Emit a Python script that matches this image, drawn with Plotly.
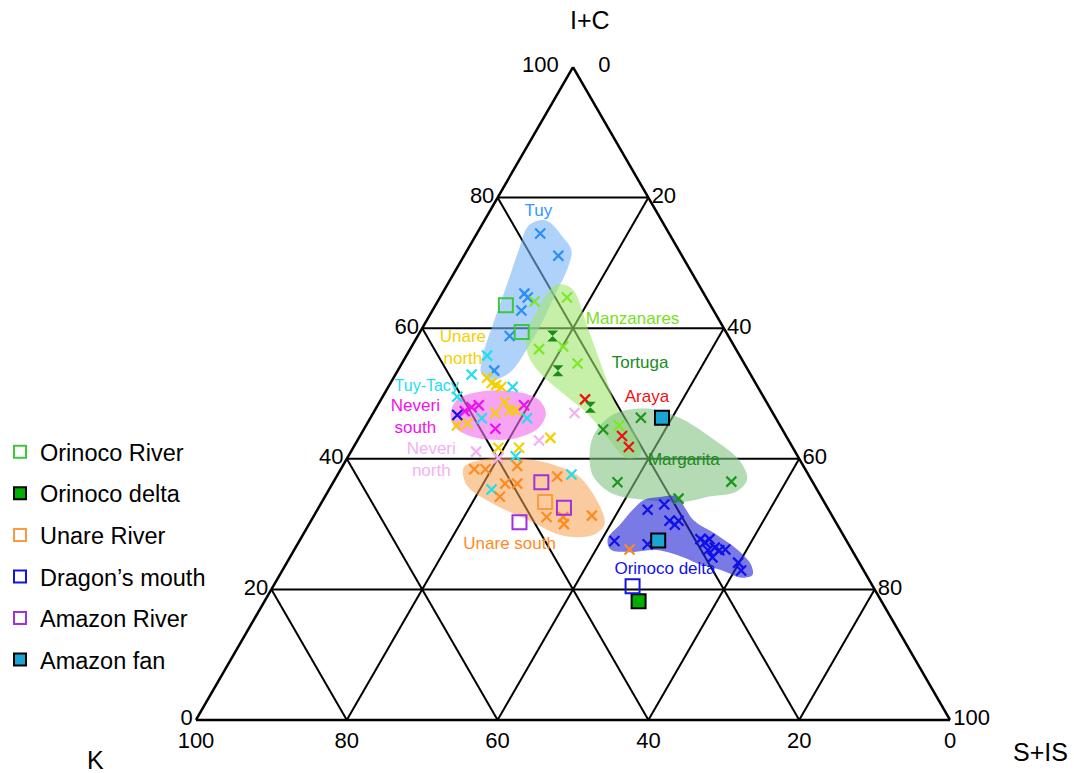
import plotly.graph_objects as go

# ---------------- data (ternary %, a = I+C, c = S+IS, K = 100 - a - c) ----------------
# x-marker groups
tuy_a = [74.5, 71.1, 65.3, 64.7, 62.7, 58.8, 53.5]
tuy_c = [8.4, 12.5, 10.9, 11.65, 11.8, 12.2, 12.8]

tuytacy_a = [55.8, 52.9, 51.0, 49.5, 46.2, 46.2, 40.4, 35.3, 37.6]
tuytacy_c = [10.7, 10.1, 16.5, 9.9, 14.8, 20.8, 22.2, 21.55, 31.0]

unare_north_a = [52.4, 51.6, 51.3, 51.0, 48.7, 47.0, 47.4, 47.4, 45.4, 45.1, 41.7, 41.7, 43.2]
unare_north_c = [12.4, 13.4, 14.15, 15.0, 16.6, 16.2, 17.9, 18.7, 13.3, 12.05, 19.25, 22.0, 25.4]

neveri_south_a = [47.9, 48.2, 48.2, 44.6, 47.3]
neveri_south_c = [12.6, 13.4, 19.4, 17.4, 12.0]

neveri_north_a = [41.1, 42.8, 40.1, 47.0]
neveri_north_c = [16.6, 24.1, 20.05, 26.7]

unare_south_a = [38.4, 38.4, 38.9, 36.2, 36.2, 34.2, 37.3, 31.1, 31.1, 30.0, 31.3, 26.1]
unare_south_c = [17.7, 19.2, 23.15, 22.9, 24.5, 23.2, 29.25, 30.95, 33.15, 33.8, 36.85, 44.45]

manzanares_a = [64.1, 64.7, 56.8, 57.2, 54.6, 45.1]
manzanares_c = [12.85, 16.85, 17.1, 20.1, 23.3, 33.55]

tortuga_a = [58.8, 53.5, 47.9]
tortuga_c = [17.9, 21.25, 28.35]

margarita_a = [44.5, 46.3, 36.4, 36.5, 33.9]
margarita_c = [31.75, 35.85, 37.7, 52.75, 47.05]

araya_a = [49.1, 43.5, 41.8]
araya_c = [27.05, 34.75, 36.5]

odelta_a = [32.2, 33.0, 30.5, 29.9, 30.5, 27.4, 26.9, 27.7, 27.2, 27.7, 26.4, 26.0, 26.0, 26.1,
            24.9, 24.1, 22.9, 46.7]
odelta_c = [43.8, 45.6, 47.55, 48.55, 48.75, 41.8, 46.45, 53.05, 53.9, 54.25, 55.6, 54.9, 56.4,
            57.15, 56.05, 59.85, 60.85, 11.3]

# square-marker groups (legend)
orinoco_river_a = [63.5, 59.4]
orinoco_river_c = [9.35, 13.5]
orinoco_delta_sq_a = [18.2]
orinoco_delta_sq_c = [49.6]
unare_river_a = [33.4]
unare_river_c = [29.6]
dragons_a = [20.5]
dragons_c = [47.65]
amazon_river_a = [36.4, 32.5, 30.3]
amazon_river_c = [27.6, 32.55, 27.75]
amazon_fan_a = [46.3, 27.5]
amazon_fan_c = [38.65, 47.55]

# field outlines
tuy_blob_a = [75.7, 76.5, 73.9, 71.9, 69.2, 65.3, 60.7, 56.8, 53.3, 52.1, 52.9, 55.2, 60.7, 66.9, 72.3]
tuy_blob_c = [6.25, 8.15, 11.75, 13.85, 14.7, 15.05, 15.45, 15.5, 15.05, 13.35, 11.45, 10.3, 9.05, 7.85, 6.75]

manz_blob_a = [66.6, 66.1, 59.6, 52.9, 47.7, 43.5, 40.7, 40.1, 42.8, 46.7, 49.8, 52.9, 56.0, 59.1, 63.8]
manz_blob_c = [14.4, 16.75, 22.3, 27.75, 32.05, 36.65, 38.65, 37.05, 33.5, 28.75, 24.0, 19.35, 16.0, 14.35, 13.9]

marg_blob_a = [43.5, 46.7, 47.7, 46.3, 43.1, 39.7, 36.9, 35.0, 34.2, 33.4, 33.7, 34.7, 37.3, 40.4]
marg_blob_c = [30.95, 31.85, 35.85, 40.95, 46.95, 52.25, 54.65, 54.2, 50.8, 48.0, 42.85, 37.85, 34.05, 32.0]

odelta_blob_a = [33.7, 34.2, 34.2, 30.6, 28.5, 26.0, 23.8, 22.2, 21.8, 22.9, 23.8, 24.9, 26.0, 25.7,
                 26.1, 27.7, 30.0, 32.3]
odelta_blob_c = [42.55, 44.7, 46.6, 50.7, 54.65, 58.9, 61.7, 62.7, 61.4, 58.35, 55.0, 52.25, 48.3,
                 44.65, 41.95, 40.75, 41.3, 41.85]

usouth_blob_a = [38.9, 40.0, 40.0, 38.9, 37.3, 33.1, 30.0, 28.5, 28.0, 28.5, 30.6, 33.1, 35.8, 37.8]
usouth_blob_c = [16.2, 18.6, 23.6, 28.45, 32.15, 36.85, 39.2, 38.75, 36.8, 33.65, 28.8, 22.85, 18.1, 16.5]

nsouth_blob_a = [46.7, 49.0, 50.1, 50.5, 50.1, 49.0, 47.0, 44.8, 43.2, 42.9, 43.5, 44.8]
nsouth_blob_c = [10.4, 10.1, 11.85, 14.85, 18.15, 21.0, 22.9, 23.1, 21.0, 17.95, 14.55, 12.0]

# field labels
label_text = ["Tuy", "Manzanares", "Tortuga", "Araya", "Margarita", "Orinoco delta",
              "Unare south", "Unare<br>north", "Neveri<br>south", "Neveri<br>north"]
label_a = [77.8, 61.3, 54.6, 49.3, 39.7, 23.0, 26.9, 56.8, 46.3, 39.7]
label_c = [6.5, 27.25, 31.6, 35.15, 44.85, 50.7, 28.15, 7.0, 5.95, 11.35]
label_color = ["#3399ff", "#77e022", "#1a8c1a", "#ee1111", "#1a8c1a", "#1111ee",
               "#ff8a20", "#f5cf00", "#ee11ee", "#f2b2f2"]
tuytacy_label = ["Tuy-Tacy"]
tuytacy_label_a = [51.0]
tuytacy_label_c = [5.1]

tick_vals = [0, 20, 40, 60, 80, 100]
a_tick_text = ["0", "20", "40", "60", "80", "100\u2002"]
b_tick_text = ["0", "20", "40", "60", "80", "100"]
c_tick_text = ["\u2002\u20020", "20", "40", "60", "80", "100"]

FONT = "Liberation Sans, Arial, sans-serif"


def kb(a, c):
    return [100 - ai - ci for ai, ci in zip(a, c)]


fig = go.Figure()

# label hidden partly behind a field
fig.add_trace(go.Scatterternary(a=tuytacy_label_a, c=tuytacy_label_c, b=kb(tuytacy_label_a, tuytacy_label_c),
                                mode="text", text=tuytacy_label,
                                textfont=dict(family=FONT, size=16, color="#22ddee"),
                                showlegend=False, hoverinfo="skip"))

blobs = [
    (tuy_blob_a, tuy_blob_c, "rgba(120,180,245,0.6)"),
    (manz_blob_a, manz_blob_c, "rgba(160,230,110,0.6)"),
    (marg_blob_a, marg_blob_c, "rgba(130,195,130,0.6)"),
    (odelta_blob_a, odelta_blob_c, "rgba(40,40,215,0.62)"),
    (usouth_blob_a, usouth_blob_c, "rgba(245,160,80,0.55)"),
    (nsouth_blob_a, nsouth_blob_c, "rgba(240,110,235,0.62)"),
]
for ba, bc, col in blobs:
    fig.add_trace(go.Scatterternary(
        a=ba + ba[:1], c=bc + bc[:1], b=kb(ba + ba[:1], bc + bc[:1]),
        mode="lines", fill="toself", fillcolor=col,
        line=dict(width=0, shape="spline", smoothing=1.0, color=col),
        showlegend=False, hoverinfo="skip"))

fig.add_trace(go.Scatterternary(a=label_a, c=label_c, b=kb(label_a, label_c), mode="text",
                                text=label_text,
                                textfont=dict(family=FONT, size=17, color=label_color),
                                showlegend=False, hoverinfo="skip"))

xgroups = [
    (tuy_a, tuy_c, "#2b8ef5"),
    (tuytacy_a, tuytacy_c, "#22ddee"),
    (unare_north_a, unare_north_c, "#f5cf00"),
    (neveri_south_a, neveri_south_c, "#ee11ee"),
    (neveri_north_a, neveri_north_c, "#f2b2f2"),
    (unare_south_a, unare_south_c, "#ff8a20"),
    (manzanares_a, manzanares_c, "#7de82a"),
    (margarita_a, margarita_c, "#1e961e"),
    (araya_a, araya_c, "#ee1111"),
    (odelta_a, odelta_c, "#1010e8"),
]
for ga, gc, col in xgroups:
    fig.add_trace(go.Scatterternary(
        a=ga, c=gc, b=kb(ga, gc), mode="markers",
        marker=dict(symbol="x-thin", size=10, color=col, line=dict(width=2.2, color=col)),
        showlegend=False, hoverinfo="skip"))

fig.add_trace(go.Scatterternary(
    a=tortuga_a, c=tortuga_c, b=kb(tortuga_a, tortuga_c), mode="markers",
    marker=dict(symbol="hourglass", size=11, color="#1a8c1a", line=dict(width=0)),
    showlegend=False, hoverinfo="skip"))

squares = [
    ("Orinoco River", orinoco_river_a, orinoco_river_c, "square-open", "#3cc83c", "#3cc83c"),
    ("Orinoco delta", orinoco_delta_sq_a, orinoco_delta_sq_c, "square", "#00b000", "#000000"),
    ("Unare River", unare_river_a, unare_river_c, "square-open", "#ff9a3c", "#ff9a3c"),
    ("Dragon’s mouth", dragons_a, dragons_c, "square-open", "#1414e0", "#1414e0"),
    ("Amazon River", amazon_river_a, amazon_river_c, "square-open", "#a030e0", "#a030e0"),
    ("Amazon fan", amazon_fan_a, amazon_fan_c, "square", "#1aa5d5", "#000000"),
]
for i, (name, sa, sc, sym, col, lcol) in enumerate(squares):
    fig.add_trace(go.Scatterternary(
        a=sa, c=sc, b=kb(sa, sc), mode="markers", name=name, legendgroup=f"g{i}",
        marker=dict(symbol=sym, size=14, color=col, line=dict(width=2, color=lcol)),
        hoverinfo="skip"))


def axis_style(ticktext):
    return dict(
        tickmode="array", tickvals=tick_vals, ticktext=ticktext,
        ticks="", showline=True, linecolor="black", linewidth=2.5,
        showgrid=True, gridcolor="black", gridwidth=1.5,
        tickfont=dict(family=FONT, size=22, color="black"),
        title=dict(text=""), layer="above traces",
    )


W, H = 1074, 773
fig.update_layout(
    width=W, height=H,
    margin=dict(l=0, r=0, t=0, b=0),
    paper_bgcolor="white",
    font=dict(family=FONT, color="black"),
    hovermode=False,
    ternary=dict(
        sum=100,
        bgcolor="white",
        domain=dict(x=[196 / W, 950 / W], y=[53 / H, 706 / H]),
        aaxis=axis_style(a_tick_text),
        baxis=axis_style(b_tick_text),
        caxis=axis_style(c_tick_text),
    ),
    legend=dict(x=0.0, y=1 - 430 / H, xanchor="left", yanchor="top",
                font=dict(family=FONT, size=23.5, color="black"),
                tracegroupgap=8, itemsizing="constant", bgcolor="rgba(0,0,0,0)"),
    annotations=[
        dict(text="I+C", x=590 / W, y=1 - 20 / H, xref="paper", yref="paper", showarrow=False,
             xanchor="center", yanchor="middle",
             font=dict(family=FONT, size=25, color="black")),
        dict(text="K", x=95 / W, y=1 - 760 / H, xref="paper", yref="paper", showarrow=False,
             xanchor="center", yanchor="middle",
             font=dict(family=FONT, size=25, color="black")),
        dict(text="S+IS", x=1040 / W, y=1 - 752 / H, xref="paper", yref="paper", showarrow=False,
             xanchor="center", yanchor="middle",
             font=dict(family=FONT, size=25, color="black")),
    ],
)

fig.write_html("out.html", config={"displayModeBar": False},
               post_script="document.body.style.margin='0px';document.body.style.overflow='hidden';")
